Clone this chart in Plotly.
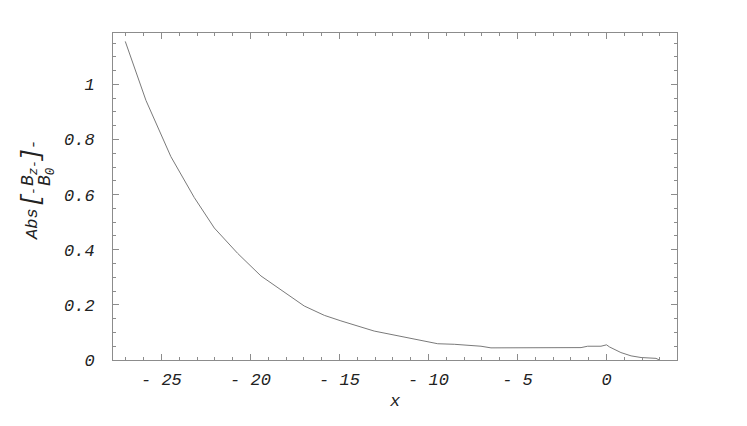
import plotly.graph_objects as go

# curve data
x_vals = [-27.03, -25.87, -24.47, -23.16, -22.03, -20.72, -19.41, -18.0, -16.98,
          -15.85, -14.92, -13.05, -11.17, -9.48, -8.55, -7.05, -6.49, -3.0, -1.43,
          -1.06, -0.31, 0.0, 0.18, 0.81, 1.38, 1.94, 2.78, 2.97]
y_vals = [1.156, 0.942, 0.738, 0.590, 0.479, 0.387, 0.305, 0.240, 0.196,
          0.162, 0.142, 0.105, 0.081, 0.059, 0.057, 0.050, 0.044, 0.044, 0.045,
          0.050, 0.050, 0.055, 0.047, 0.027, 0.015, 0.009, 0.006, 0.0]

x_ticks = [-25, -20, -15, -10, -5, 0]
x_tick_text = ["-\u00a025", "-\u00a020", "-\u00a015", "-\u00a010", "-\u00a05", "0"]
y_ticks = [0, 0.2, 0.4, 0.6, 0.8, 1.0]
y_tick_text = ["0", "0.2", "0.4", "0.6", "0.8", "1"]

FONT = "Liberation Mono"
FRAME = "#8c8c8c"
OFF = 8  # page body margin

fig = go.Figure()
fig.add_trace(go.Scatter(x=x_vals, y=y_vals, mode="lines",
                         line=dict(color="#7a7a7a", width=1), hoverinfo="skip",
                         showlegend=False))

W, H = 747 - OFF, 426 - OFF
L, R, T, B = 113 - OFF, 677 - OFF, 33 - OFF, 360 - OFF

fig.update_layout(
    width=W, height=H,
    margin=dict(l=L, r=W - R, t=T, b=H - B, pad=0),
    plot_bgcolor="white", paper_bgcolor="white",
    font=dict(family=FONT, size=17, color="#222222", style="italic"),
    xaxis=dict(range=[-27.72, 3.96], tickmode="array", tickvals=x_ticks,
               ticktext=x_tick_text, ticks="inside", ticklen=6, tickcolor=FRAME,
               showline=True, linecolor=FRAME, linewidth=1, mirror="allticks",
               showgrid=False, zeroline=False, ticklabelstandoff=4,
               minor=dict(dtick=1, tick0=0, ticks="inside", ticklen=3,
                          tickcolor=FRAME, showgrid=False),
               title=dict(text="x", font=dict(family=FONT, size=17, style="italic"),
                          standoff=4)),
    yaxis=dict(range=[0, 1.1865], tickmode="array", tickvals=y_ticks,
               ticktext=y_tick_text, ticks="inside", ticklen=6, tickcolor=FRAME,
               showline=True, linecolor=FRAME, linewidth=1, mirror="allticks",
               showgrid=False, zeroline=False, ticklabelstandoff=14,
               minor=dict(dtick=0.05, tick0=0, ticks="inside", ticklen=3,
                          tickcolor=FRAME, showgrid=False)),
)


def ann(px, py, text, size=17):
    fig.add_annotation(x=(px - OFF - L) / (R - L), y=(B - (py - OFF)) / (B - T),
                       xref="paper", yref="paper", text=text, textangle=-90,
                       showarrow=False, xanchor="center", yanchor="middle",
                       font=dict(family=FONT, size=size, color="#222222",
                                 style="italic"))


# y-axis label: Abs[ Bz / B0 ] drawn as rotated pieces
ann(32, 224, "Abs")
ann(31, 200, "[", size=24)
ann(34, 191, "-", size=13)
ann(29, 177, "B<sub>z</sub>", size=18)
ann(34, 164, "-", size=13)
ann(46, 177, "B<sub>0</sub>", size=18)
ann(31, 155, "]", size=24)
ann(34, 145, "-", size=15)

fig.write_html("out.html")
